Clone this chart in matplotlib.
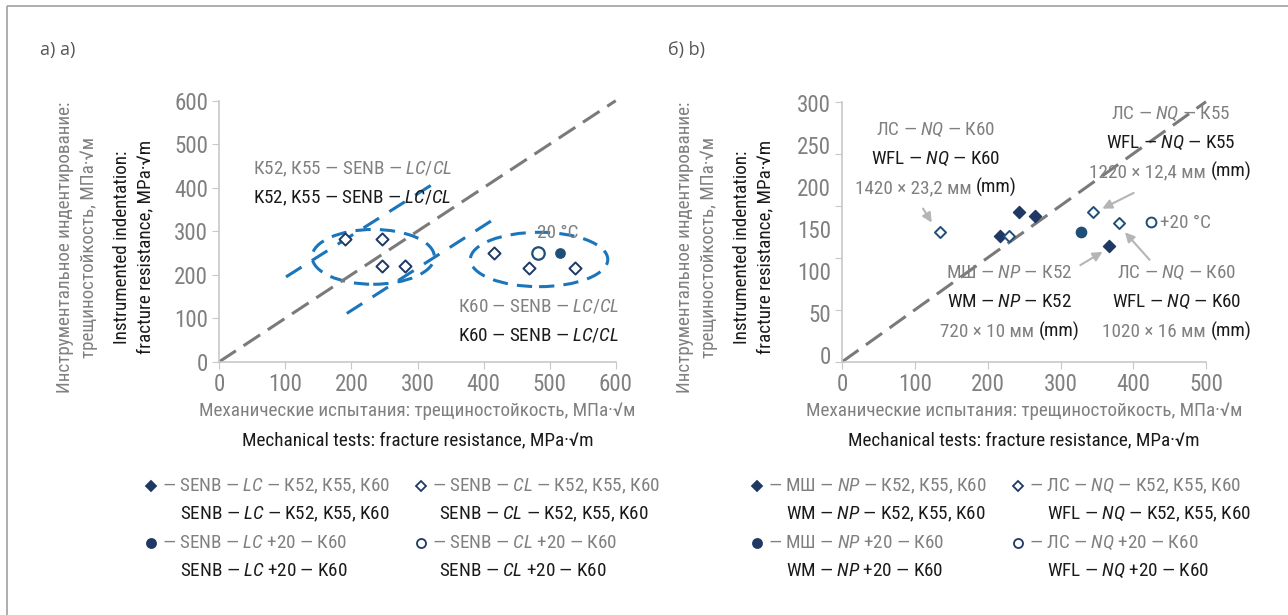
import matplotlib
matplotlib.use('Agg')
import matplotlib.pyplot as plt
from matplotlib import font_manager
from matplotlib.patches import Ellipse, Rectangle
from matplotlib.ticker import FixedLocator

# ---------------- data ----------------
# panel a) : SENB specimens, K52/K55/K60 (MPa*sqrt(m))
a_cl_x = [190, 246, 246, 281, 416, 469, 539]
a_cl_y = [281, 281, 221, 221, 251, 216, 216]
a_lc20_x = [516]
a_lc20_y = [251]
a_cl20_x = [482]
a_cl20_y = [251]
# dashed scatter bands and clusters (data units)
band_x = [[101, 324], [193, 415]]
band_y = [[195, 409], [111, 327]]
cluster_xy = [(233, 241), (484, 235)]
cluster_wh = [(185, 126), (208, 125)]

# panel b) : pipes, МШ (WM) / ЛС (WFL)
b_np_x = [217, 243, 265, 367]
b_np_y = [241, 287, 280, 223]
b_nq_x = [135, 229, 344, 380]
b_nq_y = [249, 241, 287, 266]
b_np20_x = [328]
b_np20_y = [250]
b_nq20_x = [425]
b_nq20_y = [269]
# y tick labels of panel b as printed (not aligned with its tick marks)
b_ylabels = ['0', '50', '100', '150', '200', '250', '300']
b_ylabel_pos = [13, 94, 174, 255, 336, 416, 497]

W, H = 1288, 615
NAVY = '#1f3864'
NAVY2 = '#1f4e79'
BLUE = '#1b75bb'
GREY = '#808080'
BLACK = '#1a1a1a'

avail = {f.name for f in font_manager.fontManager.ttflist}
FONT = next((f for f in ['Roboto Condensed', 'Liberation Sans Narrow', 'Open Sans Condensed']
             if f in avail), 'Roboto')
plt.rcParams['font.family'] = [FONT, 'DejaVu Sans']
plt.rcParams['mathtext.fontset'] = 'custom'
plt.rcParams['mathtext.rm'] = FONT
plt.rcParams['mathtext.it'] = FONT + ':italic'

fig = plt.figure(figsize=(W / 100, H / 100), dpi=100)
fig.patch.set_facecolor('white')

# calibrate font size on a mixed russian / english line width of the reference
renderer = fig.canvas.get_renderer()
probe = fig.text(0, 0, 'Mechanical tests: fracture resistance, MPa·√m', fontsize=10)
S = 0.94 * 10 * 373 / probe.get_window_extent(renderer).width
probe.remove()

# overlay in pixel coordinates for frame, labels and legends
ov = fig.add_axes([0, 0, 1, 1], zorder=0)
ov.set_xlim(0, W)
ov.set_ylim(H, 0)
ov.axis('off')
ov.add_patch(Rectangle((7, 6), W, H, fill=False, edgecolor='#a0a0a0', lw=1.2, clip_on=False))
ov.text(40, 50, 'а) a)', family='Open Sans', fontsize=13, color='#555555', va='center')
ov.text(668, 50, 'б) b)', family='Open Sans', fontsize=13, color='#555555', va='center')


def style_axes(ax):
    for s in ['top', 'right']:
        ax.spines[s].set_visible(False)
    for s in ['left', 'bottom']:
        ax.spines[s].set_color('#c8c8c8')
        ax.spines[s].set_linewidth(1.2)
    ax.tick_params(which='both', direction='out', length=5, color='#c8c8c8',
                   labelcolor=GREY, labelsize=S * 1.2, pad=3)
    ax.patch.set_alpha(0)


def axis_titles(xc, yc, yx):
    ov.text(xc, 411, 'Механические испытания: трещиностойкость, МПа·√м', color=GREY,
            fontsize=S, ha='center', va='center')
    ov.text(xc, 440, 'Mechanical tests: fracture resistance, MPa·√m', color=BLACK,
            fontsize=S, ha='center', va='center')
    lines = [('Инструментальное индентирование:', GREY), ('трещиностойкость, МПа·√м', GREY),
             ('Instrumented indentation:', BLACK), ('fracture resistance, MPa·√m', BLACK)]
    for dx, (s, c) in zip([0, 24, 57, 80], lines):
        ov.text(yx + dx, yc, s, color=c, fontsize=S, rotation=90, ha='center', va='center')


# ---------------- panel a ----------------
ax1 = fig.add_axes([219.3 / W, 1 - 361.7 / H, 396.4 / W, 261 / H], zorder=2)
style_axes(ax1)
ax1.set_xlim(0, 600)
ax1.set_ylim(0, 600)
ax1.set_xticks(range(0, 601, 100))
ax1.set_yticks(range(0, 601, 100))
ax1.plot([0, 600], [0, 600], color='#7a7a7a', lw=2.2, dashes=(6.5, 3), clip_on=False)
for bx, by in zip(band_x, band_y):
    ax1.plot(bx, by, color=BLUE, lw=2.2, dashes=(6, 4))
for (cx, cy), (w, h) in zip(cluster_xy, cluster_wh):
    ax1.add_patch(Ellipse((cx, cy), w, h, fill=False, edgecolor=BLUE, lw=2.2, ls=(0, (5, 3))))
ax1.scatter(a_cl_x, a_cl_y, marker='D', s=38, facecolor='white', edgecolor=NAVY, lw=1.4, zorder=4)
ax1.scatter(a_cl20_x, a_cl20_y, marker='o', s=80, facecolor='white', edgecolor=NAVY2, lw=1.6, zorder=4)
ax1.scatter(a_lc20_x, a_lc20_y, marker='o', s=45, facecolor=NAVY2, edgecolor=NAVY2, zorder=4)
ax1.text(51, 443, 'К52, К55 — SENB — $\\mathit{LC/CL}$', color=GREY, fontsize=S, va='center')
ax1.text(51, 376, 'K52, K55 — SENB — $\\mathit{LC/CL}$', color=BLACK, fontsize=S, va='center')
ax1.text(481, 296, '20 °C', color=GREY, fontsize=S, va='center')
ax1.text(361, 126, 'К60 — SENB — $\\mathit{LC/CL}$', color=GREY, fontsize=S, va='center')
ax1.text(361, 61, 'K60 — SENB — $\\mathit{LC/CL}$', color=BLACK, fontsize=S, va='center')
axis_titles(417.5, 247, 65)

# ---------------- panel b ----------------
ax2 = fig.add_axes([842.3 / W, 1 - 361.7 / H, 363.7 / W, 260 / H], zorder=2)
style_axes(ax2)
ax2.set_xlim(0, 500)
ax2.set_ylim(0, 500)
ax2.set_xticks(range(0, 501, 100))
ax2.set_yticks(range(0, 501, 100))
ax2.set_yticklabels([])
ax2.yaxis.set_minor_locator(FixedLocator(b_ylabel_pos))
ax2.set_yticks(b_ylabel_pos, b_ylabels, minor=True)
ax2.tick_params(axis='y', which='minor', length=0, pad=8)
ax2.plot([0, 500], [0, 500], color='#7a7a7a', lw=2.2, dashes=(6.5, 3), clip_on=False)
ax2.scatter(b_np_x, b_np_y, marker='D', s=38, facecolor=NAVY, edgecolor=NAVY, zorder=4)
ax2.scatter(b_nq_x, b_nq_y, marker='D', s=32, facecolor='white', edgecolor=NAVY2, lw=1.4, zorder=4)
ax2.scatter(b_np20_x, b_np20_y, marker='o', s=55, facecolor=NAVY2, edgecolor=NAVY2, zorder=4)
ax2.scatter(b_nq20_x, b_nq20_y, marker='o', s=50, facecolor='white', edgecolor=NAVY2, lw=1.4, zorder=4)
ax2.text(437, 266, '+20 °C', color=GREY, fontsize=S, va='center')


def label_group(ax, x, ys, ru, en, size_grey, size_black):
    ax.text(x, ys[0], ru, color=GREY, fontsize=S, ha='center', va='center', clip_on=False)
    ax.text(x, ys[1], en, color=BLACK, fontsize=S, ha='center', va='center', clip_on=False)
    full = ax.text(x, ys[2], size_grey + ' ' + size_black, fontsize=S, ha='center',
                   va='center', alpha=0, clip_on=False)
    ax.annotate(size_grey, xy=(0, 0), xycoords=full, ha='left', va='bottom', color=GREY, fontsize=S)
    ax.annotate(size_black, xy=(1, 0), xycoords=full, ha='right', va='bottom', color=BLACK, fontsize=S)


label_group(ax2, 129, [446, 390, 335], 'ЛС — $\\mathit{NQ}$ — К60', 'WFL — $\\mathit{NQ}$ — K60',
            '1420 × 23,2 мм', '(mm)')
label_group(ax2, 451, [476, 421, 365], 'ЛС — $\\mathit{NQ}$ — К55', 'WFL — $\\mathit{NQ}$ — K55',
            '1220 × 12,4 мм', '(mm)')
label_group(ax2, 230, [170, 115, 58], 'МШ — $\\mathit{NP}$ — К52', 'WM — $\\mathit{NP}$ — K52',
            '720 × 10 мм', '(mm)')
label_group(ax2, 460, [170, 115, 58], 'ЛС — $\\mathit{NQ}$ — К60', 'WFL — $\\mathit{NQ}$ — K60',
            '1020 × 16 мм', '(mm)')

arrows = [((109, 299), (125, 263)), ((404, 327), (354, 292)),
          ((324, 183), (361, 214)), ((425, 192), (386, 253))]
for start, end in arrows:
    ax2.annotate('', xy=end, xytext=start,
                 arrowprops=dict(arrowstyle='-|>', color='#b5b5b5', lw=1.5, mutation_scale=14))
axis_titles(1024, 247, 685)

# ---------------- legends ----------------
def legend_item(x_mark, x_grey, x_black, y, marker, filled, ru, en, ms=6.5):
    ov.plot([x_mark], [y], marker=marker, ms=ms, mfc=NAVY if filled else 'white',
            mec=NAVY, mew=1.3, ls='none')
    ov.text(x_grey, y, ru, color=GREY, fontsize=S, va='center')
    ov.text(x_black, y + 28, en, color=BLACK, fontsize=S, va='center')


legend_item(151, 162, 180, 486, 'D', True, '— SENB — $\\mathit{LC}$ — К52, К55, К60',
            'SENB — $\\mathit{LC}$ — K52, K55, K60', ms=5.5)
legend_item(151, 162, 180, 543, 'o', True, '— SENB — $\\mathit{LC}$ +20 — К60',
            'SENB — $\\mathit{LC}$ +20 — K60')
legend_item(421, 432, 439, 486, 'D', False, '— SENB — $\\mathit{CL}$ — К52, К55, К60',
            'SENB — $\\mathit{CL}$ — K52, K55, K60', ms=5.5)
legend_item(421, 432, 439, 543, 'o', False, '— SENB — $\\mathit{CL}$ +20 — К60',
            'SENB — $\\mathit{CL}$ +20 — K60')

legend_item(757, 768, 786, 486, 'D', True, '— МШ — $\\mathit{NP}$ — К52, К55, К60',
            'WM — $\\mathit{NP}$ — K52, K55, K60', ms=5.5)
legend_item(757, 768, 786, 543, 'o', True, '— МШ — $\\mathit{NP}$ +20 — К60',
            'WM — $\\mathit{NP}$ +20 — K60')
legend_item(1018, 1029, 1047, 486, 'D', False, '— ЛС — $\\mathit{NQ}$ — К52, К55, К60',
            'WFL — $\\mathit{NQ}$ — K52, K55, K60', ms=5.5)
legend_item(1018, 1029, 1047, 543, 'o', False, '— ЛС — $\\mathit{NQ}$ +20 — К60',
            'WFL — $\\mathit{NQ}$ +20 — K60')

fig.savefig('out.png', dpi=100)
